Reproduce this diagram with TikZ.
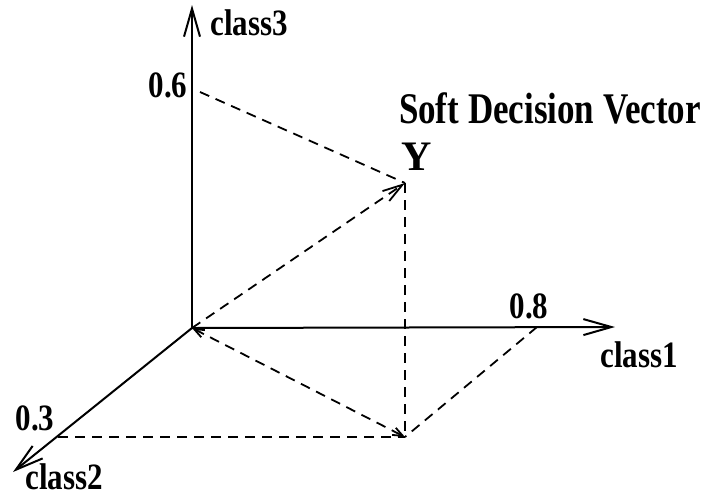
\documentclass[tikz,border=0pt]{standalone}
\usepackage{fontspec}
\setmainfont{Liberation Serif}
\usepackage{graphicx}
\usetikzlibrary{arrows.meta}

% bold labels, a little taller than wide as in the scan
\newcommand{\tallbf}[2][1.2]{\scalebox{1}[#1]{\bfseries #2}}

\begin{document}
\begin{tikzpicture}[
  x=0.5pt,y=-0.5pt,
  every node/.style={inner sep=0pt,font=\fontsize{15.5}{18}\selectfont},
  axis/.style={-{Straight Barb[length=14pt,width=8pt]},line width=1pt},
  proj/.style={dash pattern=on 5pt off 3.5pt,line width=0.9pt},
  vec/.style={proj,-{Straight Barb[length=10pt,width=6pt]}},
  small/.style={proj,{Straight Barb[length=5pt,width=4pt]}-{Straight Barb[length=5pt,width=4pt]}}
]
\useasboundingbox (0,0) rectangle (705,494);

% axes
\coordinate (o) at (192,328);
\coordinate (c1) at (615,327);
\coordinate (c2) at (13,472);
\coordinate (c3) at (192,5);
\draw[axis] (o) -- (c1);
\draw[axis] (o) -- (c2);
\draw[axis] (o) -- (c3);

% points on the axes, the vector and its footprint
\coordinate (p6) at (192,92);
\coordinate (p8) at (537,327);
\coordinate (p3) at (58,437);
\coordinate (y) at (405,183);
\coordinate (f) at (405,437);

\draw[proj] ([xshift=4pt]p6) -- (y);
\draw[vec] (o) -- (y);
\draw[proj] (y) -- (f);
\draw[small] (o) -- (f);
\draw[proj] (p3) -- (f);
\draw[proj] (p8) -- (f);

% labels
\node[anchor=west] (l3) at (210,23) {\tallbf{class3}};
\node (l1) at (639,355) {\tallbf{class1}};
\node (l2) at (64,477) {\tallbf{class2}};
\node (v6) at (168,85) {\tallbf{0.6}};
\node (v8) at (529,306) {\tallbf{0.8}};
\node (v3) at (35,418) {\tallbf{0.3}};
\node (ly) at (417,157) {\tallbf[1]{\fontsize{21}{22}\selectfont Y}};
\node (title) at (550,108) {\tallbf[1.25]{\fontsize{17.5}{20}\selectfont Soft Decision Vector}};
\end{tikzpicture}
\end{document}
